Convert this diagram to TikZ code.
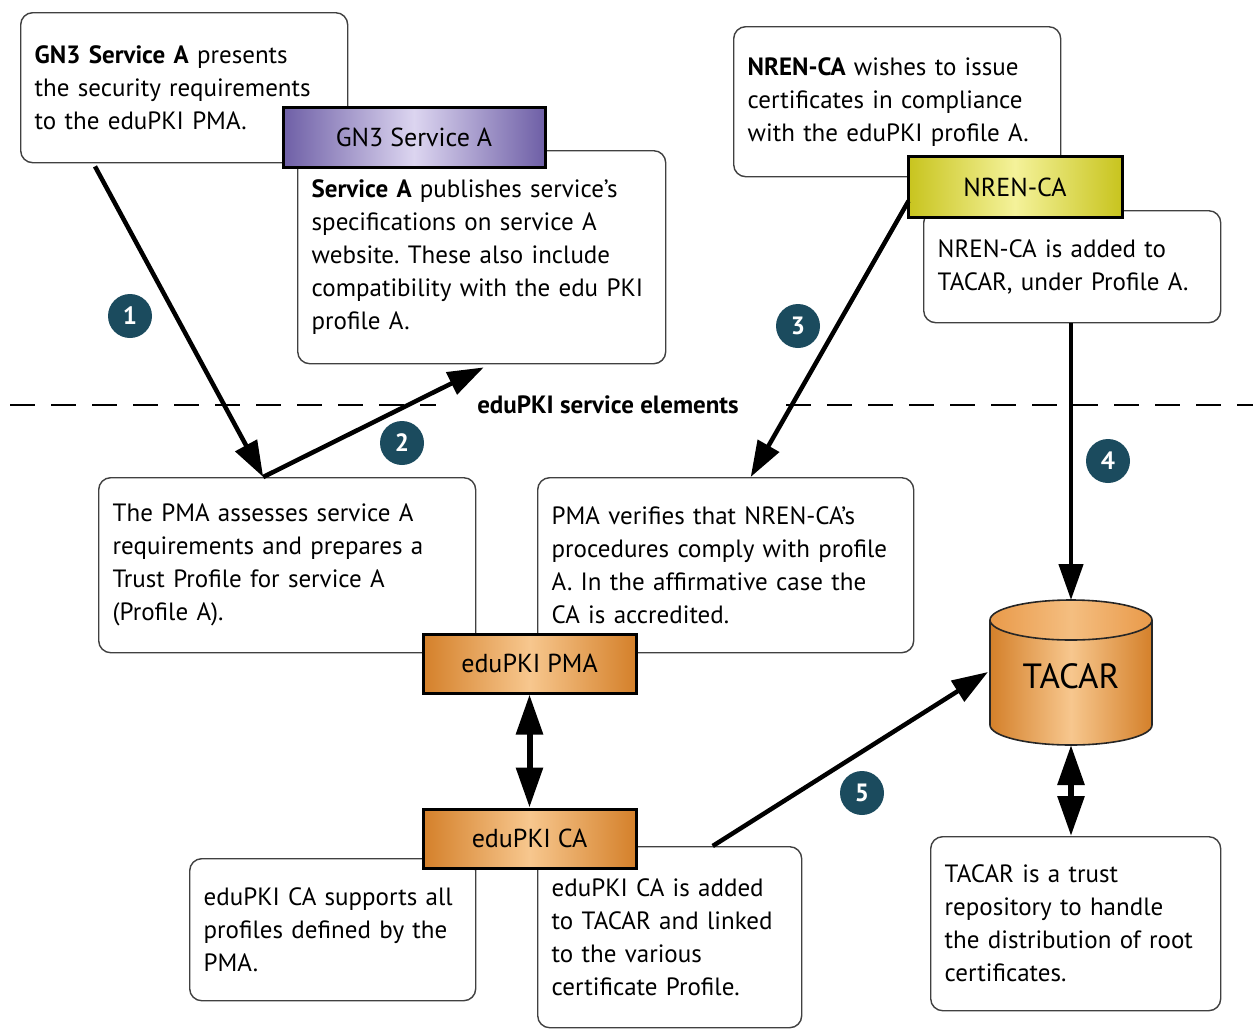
\documentclass[tikz,border=0pt]{standalone}
\usepackage{fontspec}
\setmainfont{PT Sans}
\frenchspacing
\usetikzlibrary{arrows.meta,calc}
\definecolor{tealc}{HTML}{1B4B5E}
\definecolor{purD}{HTML}{6E5FA6}
\definecolor{purL}{HTML}{DCD5F0}
\definecolor{yelD}{HTML}{C8C41E}
\definecolor{yelL}{HTML}{F4F29A}
\definecolor{orD}{HTML}{D4802A}
\definecolor{orL}{HTML}{F7C78E}
\definecolor{orT}{HTML}{E99A4A}
\tikzset{
  txt/.style={draw=black!75, line width=1.4pt, rounded corners=12pt, fill=white,
    inner xsep=14pt, inner ysep=6pt, align=left, anchor=north west,
    font=\fontsize{25}{33}\selectfont},
  lab/.style={draw=black, line width=3pt, inner sep=0pt,
    font=\fontsize{26}{30}\selectfont},
  purlab/.style={lab, left color=purD, right color=purD, middle color=purL},
  yellab/.style={lab, left color=yelD, right color=yelD, middle color=yelL},
  orlab/.style={lab, left color=orD, right color=orD, middle color=orL},
  num/.style={circle, fill=tealc, text=white, minimum size=44pt, inner sep=0pt,
    font=\fontsize{25}{25}\selectfont\bfseries},
  arr/.style={line width=4.5pt, -{Triangle[length=36pt,width=24pt]}},
  darr/.style={line width=6pt, {Triangle[length=40pt,width=26pt]}-{Triangle[length=40pt,width=26pt]}},
  sepline/.style={line width=2.5pt, dash pattern=on 25pt off 16pt},
}
\begin{document}
\begin{tikzpicture}[x=1pt,y=-1pt]
\useasboundingbox (0,0) rectangle (1253,1029);
\fill[white] (0,0) rectangle (1253,1029);

% text boxes
\node[txt, text width=299pt, minimum height=150pt] (b1) at (20,12)
  {\textbf{GN3 Service A} presents\\the security requirements\\to the eduPKI PMA.};
\node[txt, text width=340pt, minimum height=213pt] (sA) at (297,150)
  {\textbf{Service A} publishes service’s\\specifications on service A\\website. These also include\\compatibility with the edu PKI\\profile A.};
\node[txt, text width=299pt, minimum height=150pt] (nbox) at (733,26)
  {\textbf{NREN-CA} wishes to issue\\certificates in compliance\\with the eduPKI profile A.};
\node[txt, text width=269pt, minimum height=112pt] (nadd) at (923,210)
  {NREN-CA is added to\\TACAR, under Profile A.};
\node[txt, text width=349pt, minimum height=175pt] (pbox) at (98,477)
  {The PMA assesses service A\\requirements and prepares a\\Trust Profile for service A\\(Profile A).};
\node[txt, text width=348pt, minimum height=175pt] (vbox) at (537,477)
  {PMA verifies that NREN-CA’s\\procedures comply with profile\\A. In the affirmative case the\\CA is accredited.};
\node[txt, text width=258pt, minimum height=142pt] (csup) at (189,858)
  {eduPKI CA supports all\\profiles defined by the\\PMA.};
\node[txt, text width=236pt, minimum height=181pt] (cadd) at (537,846)
  {eduPKI CA is added\\to TACAR and linked\\to the various\\certificate Profile.};
\node[txt, text width=262pt, minimum height=174pt] (trust) at (930,836)
  {TACAR is a trust\\repository to handle\\the distribution of root\\certificates.};

% labels
\node[purlab, minimum width=262pt, minimum height=60pt] (gn3) at (414,137) {GN3 Service A};
\node[yellab, minimum width=214pt, minimum height=61pt] (nren) at (1015,187) {NREN-CA};
\node[orlab, minimum width=213pt, minimum height=59pt] (pma) at (529.5,663.5) {eduPKI PMA};
\node[orlab, minimum width=213pt, minimum height=59pt] (ca) at (529.5,838.5) {eduPKI CA};

% TACAR cylinder
\path[left color=orD, right color=orD, middle color=orL]
  (990,620) -- (990,725) arc[start angle=180, end angle=360, x radius=81pt, y radius=20pt]
  -- (1152,620) -- cycle;
\draw[line width=1.6pt, black!85]
  (990,620) -- (990,725) arc[start angle=180, end angle=360, x radius=81pt, y radius=20pt]
  -- (1152,620);
\draw[line width=1.6pt, black!85, left color=orT, right color=orT, middle color=orL!80!orT]
  (1071,620) ellipse[x radius=81pt, y radius=20pt];
\node[font=\fontsize{35}{35}\selectfont, inner sep=0pt] (tacar) at (1071,676) {TACAR};

% separator
\coordinate (d1) at (10,405);
\coordinate (d2) at (436,405);
\coordinate (d3) at (786,405);
\coordinate (d4) at (1253,405);
\draw[sepline] (d1) -- (d2);
\draw[sepline] (d3) -- (d4);
\node[font=\fontsize{25}{30}\selectfont\bfseries] (sep) at (608,405) {eduPKI service elements};

% arrows
\draw[arr] ($(b1.south west)+(75,3)$) -- ($(pbox.north)+(-24,0)$);
\draw[arr] ($(pbox.north)+(-24,0)$) -- ($(sA.south)+(2,3)$);
\draw[arr] ($(nren.south west)+(2,-18)$) -- ($(vbox.north)+(25,0)$);
\draw[arr] (nadd.south -| tacar) -- ($(tacar)+(0,-76)$);
\draw[arr] ($(cadd.north)+(43,0)$) -- ($(tacar)+(-83,-4)$);
\draw[darr] (pma.south) -- (ca.north);
\draw[darr] ($(tacar)+(0,69)$) -- (trust.north -| tacar);

% step numbers
\node[num] (n1) at (130,316) {1};
\node[num] (n2) at (402,443) {2};
\node[num] (n3) at (798,326) {3};
\node[num] (n4) at (1108,461) {4};
\node[num] (n5) at (862,793) {5};
\end{tikzpicture}
\end{document}
